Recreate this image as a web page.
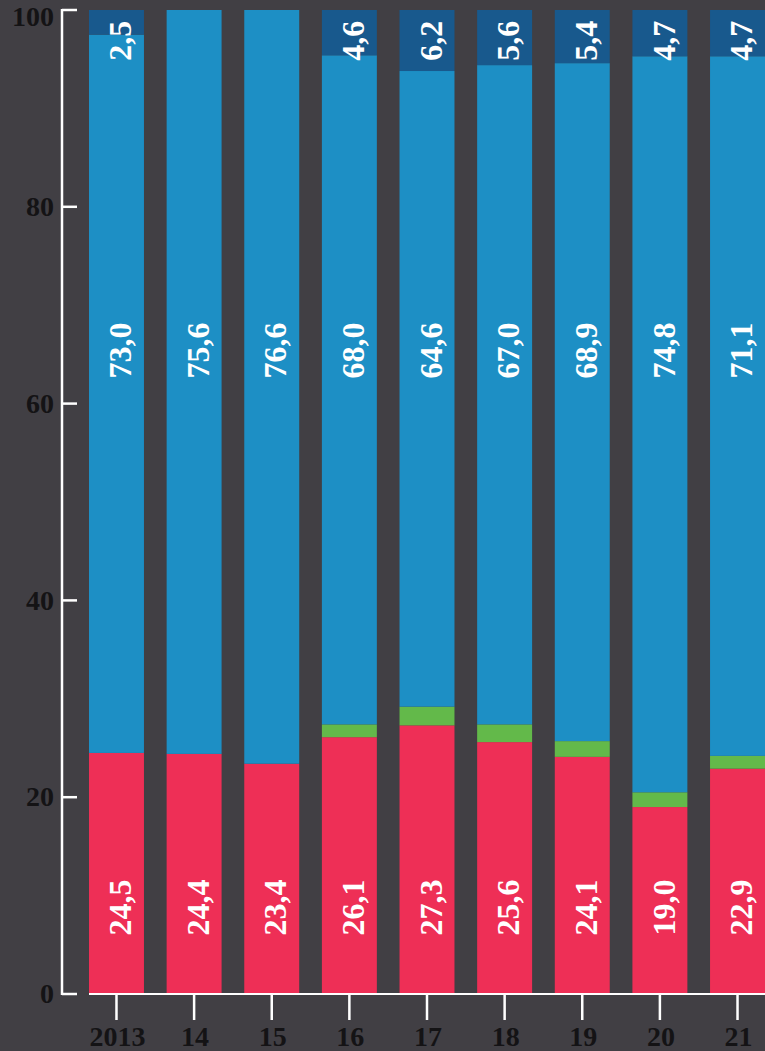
<!DOCTYPE html>
<html>
<head>
<meta charset="utf-8">
<script src="https://cdn.jsdelivr.net/npm/d3@7"></script>
<style>
  html, body { margin: 0; padding: 0; background: #413f44; }
  svg { display: block; }
  .tick-label { font-family: "Liberation Serif", serif; font-weight: bold; font-size: 28px; fill: #141315; }
  .val { font-family: "Liberation Serif", serif; font-weight: bold; font-size: 32px; fill: #fff; }
</style>
</head>
<body>
<div id="chart"></div>
<script>
const years = ["2013", "14", "15", "16", "17", "18", "19", "20", "21"];
const redValues = [24.5, 24.4, 23.4, 26.1, 27.3, 25.6, 24.1, 19.0, 22.9];
const greenValues = [0, 0, 0, 1.3, 1.9, 1.8, 1.6, 1.5, 1.3];
const blueValues = [73.0, 75.6, 76.6, 68.0, 64.6, 67.0, 68.9, 74.8, 71.1];
const darkValues = [2.5, 0, 0, 4.6, 6.2, 5.6, 5.4, 4.7, 4.7];
const yTicks = [0, 20, 40, 60, 80, 100];

const width = 765;
const height = 1051;
const margin = { top: 10, bottom: 57, left: 89, right: 0 };
const colors = {
  red: "#ee2f56",
  green: "#63b94a",
  blue: "#1d8fc5",
  dark: "#18598d",
};

const svg = d3
  .select("#chart")
  .append("svg")
  .attr("width", width)
  .attr("height", height);

const x = d3
  .scaleBand()
  .domain(years)
  .range([margin.left, 765])
  .paddingInner(0.292)
  .paddingOuter(0);

const y = d3
  .scaleLinear()
  .domain([0, 100])
  .range([height - margin.bottom, margin.top]);

const fmt = (v) => d3.format(".1f")(v).replace(".", ",");

// stack the segments bottom to top
const rows = years.map((yr, i) => ({
  year: yr,
  red: redValues[i],
  green: greenValues[i],
  blue: blueValues[i],
  dark: darkValues[i],
}));
const keys = ["red", "green", "blue", "dark"];
const series = d3.stack().keys(keys)(rows);

const gBars = svg.append("g");
gBars
  .selectAll("g")
  .data(series)
  .join("g")
  .attr("fill", (d) => colors[d.key])
  .selectAll("rect")
  .data((d) => d.filter((s) => s[1] - s[0] > 0))
  .join("rect")
  .attr("x", (d) => x(d.data.year))
  .attr("width", x.bandwidth())
  .attr("y", (d) => y(d[1]))
  .attr("height", (d) => y(d[0]) - y(d[1]));

// value labels, rotated, at fixed heights like the original
const gLabels = svg.append("g");
const labelSpecs = [
  { key: "red", at: y(8.8), anchor: "middle" },
  { key: "blue", at: y(65.4), anchor: "middle" },
  { key: "dark", at: y(98.9), anchor: "end" },
];
labelSpecs.forEach((spec) => {
  gLabels
    .append("g")
    .selectAll("text")
    .data(rows.filter((d) => d[spec.key] > 0))
    .join("text")
    .attr("class", "val")
    .attr("text-anchor", spec.anchor)
    .attr("dy", "0.46em")
    .attr(
      "transform",
      (d) => `translate(${x(d.year) + x.bandwidth() / 2},${spec.at}) rotate(-90)`
    )
    .text((d) => fmt(d[spec.key]));
});

// y axis
const gY = svg.append("g").attr("transform", "translate(62,0)");
gY.append("line")
  .attr("y1", y(100) - 1)
  .attr("y2", y(0) + 1)
  .attr("stroke", "#fff")
  .attr("stroke-width", 2.5);
gY.selectAll(".tk")
  .data(yTicks)
  .join("line")
  .attr("class", "tk")
  .attr("x1", 0)
  .attr("x2", 15)
  .attr("y1", (d) => y(d))
  .attr("y2", (d) => y(d))
  .attr("stroke", "#fff")
  .attr("stroke-width", 2.5);
gY.selectAll("text")
  .data(yTicks)
  .join("text")
  .attr("class", "tick-label")
  .attr("text-anchor", "end")
  .attr("x", -8)
  .attr("y", (d) => Math.max(y(d), 17))
  .attr("dy", "0.33em")
  .text((d) => d);

// x axis
const gX = svg.append("g").attr("transform", `translate(0,${y(0)})`);
gX.append("line")
  .attr("x1", margin.left)
  .attr("x2", width)
  .attr("stroke", "#fff")
  .attr("stroke-width", 2);
gX.selectAll(".tk")
  .data(years)
  .join("line")
  .attr("class", "tk")
  .attr("x1", (d) => x(d) + x.bandwidth() / 2)
  .attr("x2", (d) => x(d) + x.bandwidth() / 2)
  .attr("y1", 1)
  .attr("y2", 26)
  .attr("stroke", "#fff")
  .attr("stroke-width", 2.5);
gX.selectAll("text")
  .data(years)
  .join("text")
  .attr("class", "tick-label")
  .attr("text-anchor", "middle")
  .attr("x", (d) => x(d) + x.bandwidth() / 2 + 1)
  .attr("y", 52)
  .text((d) => d);
</script>
</body>
</html>
